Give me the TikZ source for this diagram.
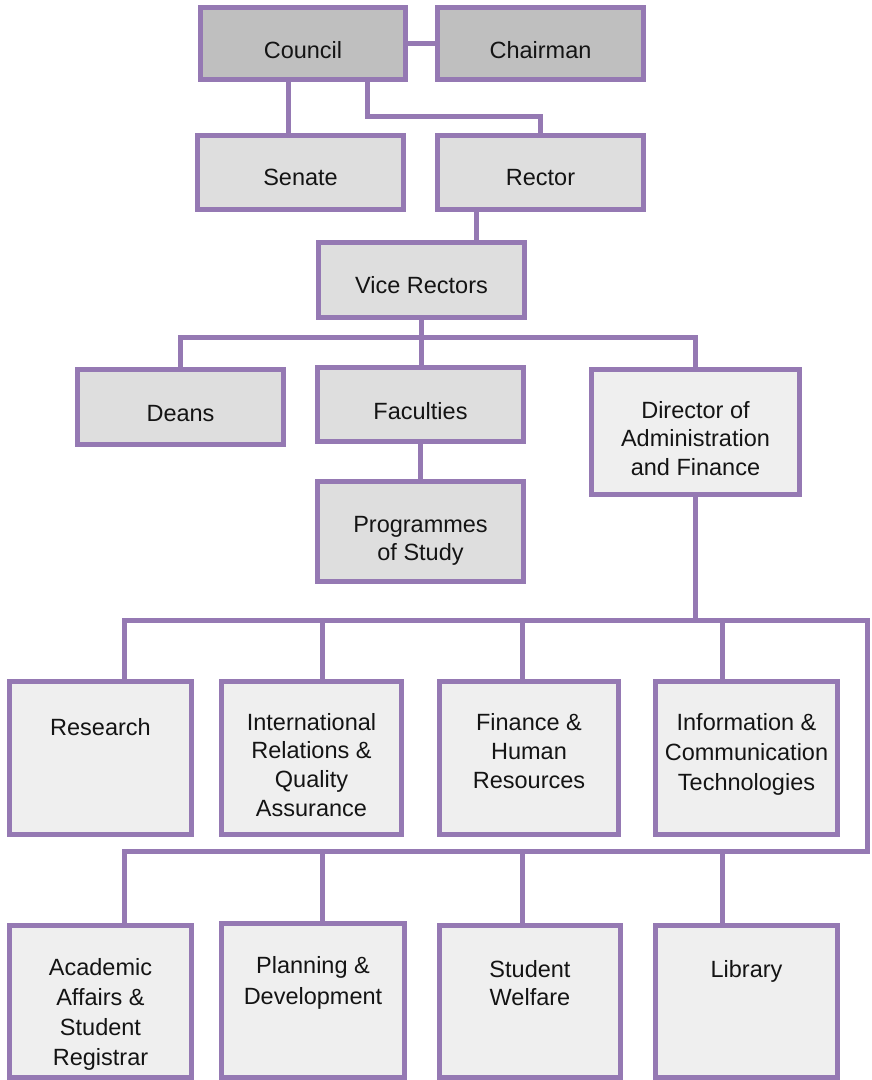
\documentclass[tikz,border=0pt]{standalone}
\usepackage{fontspec}
\setmainfont{Liberation Sans}
\definecolor{orgpurple}{RGB}{149,121,179}
\definecolor{filldark}{RGB}{191,191,191}
\definecolor{fillmid}{RGB}{222,222,222}
\definecolor{filllight}{RGB}{239,239,239}
\definecolor{txt}{RGB}{20,20,20}
\tikzset{
  orgbox/.style={draw=orgpurple, line width=5pt, inner sep=0pt, rectangle},
  lbl/.style={anchor=base, inner sep=0pt, text=txt},
  conn/.style={draw=orgpurple, line width=5pt, line join=miter}
}
\newcommand\obox[6]{%
  \node[orgbox, fill=#6, minimum width={#3-#2-5}, minimum height={#5-#4-5}] (#1) at ({(#2+#3)/2},{(#4+#5)/2}) {};}
\newcommand\olbl[5][29]{%
  \node[lbl, font=\fontsize{23.5}{#1}\selectfont] (#2) at (#3.center |- 0,#4) {\setlength{\tabcolsep}{0pt}\begin{tabular}[t]{c}#5\end{tabular}};}
\begin{document}
\begin{tikzpicture}[x=1pt,y=-1pt]
\useasboundingbox (0,0) rectangle (871,1080);
% boxes
\obox{council}{198}{408}{5}{82}{filldark}
\obox{chairman}{435}{646}{5}{82}{filldark}
\obox{senate}{195}{406}{133}{212}{fillmid}
\obox{rector}{435}{646}{133}{212}{fillmid}
\obox{vr}{316}{527}{240}{320}{fillmid}
\obox{deans}{75}{286}{367}{447}{fillmid}
\obox{faculties}{315}{526}{365}{444}{fillmid}
\obox{director}{589}{802}{367}{497}{filllight}
\obox{programmes}{315}{526}{479}{584}{fillmid}
\obox{research}{7}{194}{679}{837}{filllight}
\obox{irqa}{219}{404}{679}{837}{filllight}
\obox{finance}{437}{621}{679}{837}{filllight}
\obox{ict}{653}{840}{679}{837}{filllight}
\obox{academic}{7}{194}{923}{1080}{filllight}
\obox{planning}{219}{407}{921}{1080}{filllight}
\obox{welfare}{437}{623}{923}{1080}{filllight}
\obox{library}{653}{840}{923}{1080}{filllight}
% helper coordinates
\coordinate (cA) at (288,0);
\coordinate (cB) at (367,0);
\coordinate (cC) at (476,0);
\coordinate (elbow) at (0,116);
\coordinate (bar0) at (0,337);
\coordinate (bar1) at (0,620);
\coordinate (bar2) at (0,851);
\coordinate (dA) at (124,0);
\coordinate (dB) at (322,0);
\coordinate (dC) at (522,0);
\coordinate (dD) at (722,0);
\coordinate (dR) at (867,0);
% connectors
\draw[conn] (council.east) -- (chairman.west);
\draw[conn] (council.south -| cA) -- (senate.north -| cA);
\draw[conn] (council.south -| cB) -- (elbow -| cB) -| (rector.north);
\draw[conn] (rector.south -| cC) -- (vr.north -| cC);
\draw[conn] (vr.south) -- (vr.south |- bar0);
\draw[conn] (deans.north) -- (deans.north |- bar0) -- (director.north |- bar0) -- (director.north);
\draw[conn] (vr.south |- bar0) -- (faculties.north -| vr.south);
\draw[conn] (faculties.south) -- (programmes.north);
\draw[conn] (director.south) -- (director.south |- bar1);
\draw[conn] (research.north -| dA) -- (bar1 -| dA) -- (bar1 -| dR) -- (bar2 -| dR) -- (bar2 -| dA) -- (academic.north -| dA);
\draw[conn] (bar1 -| dB) -- (irqa.north -| dB);
\draw[conn] (bar1 -| dC) -- (finance.north -| dC);
\draw[conn] (bar1 -| dD) -- (ict.north -| dD);
\draw[conn] (bar2 -| dB) -- (planning.north -| dB);
\draw[conn] (bar2 -| dC) -- (welfare.north -| dC);
\draw[conn] (bar2 -| dD) -- (library.north -| dD);
% labels
\olbl{tcouncil}{council}{58}{Council}
\olbl{tchairman}{chairman}{58}{Chairman}
\olbl{tsenate}{senate}{185}{Senate}
\olbl{trector}{rector}{185}{Rector}
\olbl{tvr}{vr}{293}{Vice Rectors}
\olbl{tdeans}{deans}{421}{Deans}
\olbl{tfaculties}{faculties}{419}{Faculties}
\olbl[28.5]{tdirector}{director}{418}{Director of\\Administration\\and Finance}
\olbl[28]{tprogrammes}{programmes}{532}{Programmes\\of Study}
\olbl{tresearch}{research}{735}{Research}
\olbl[28.7]{tirqa}{irqa}{730}{International\\Relations \&\\Quality\\Assurance}
\olbl{tfinance}{finance}{730}{Finance \&\\Human\\Resources}
\olbl[30]{tict}{ict}{730}{Information \&\\Communication\\Technologies}
\olbl[30]{tacademic}{academic}{975}{Academic\\Affairs \&\\Student\\Registrar}
\olbl[31]{tplanning}{planning}{973}{Planning \&\\Development}
\olbl[28]{twelfare}{welfare}{977}{Student\\Welfare}
\olbl{tlibrary}{library}{977}{Library}
\end{tikzpicture}
\end{document}
